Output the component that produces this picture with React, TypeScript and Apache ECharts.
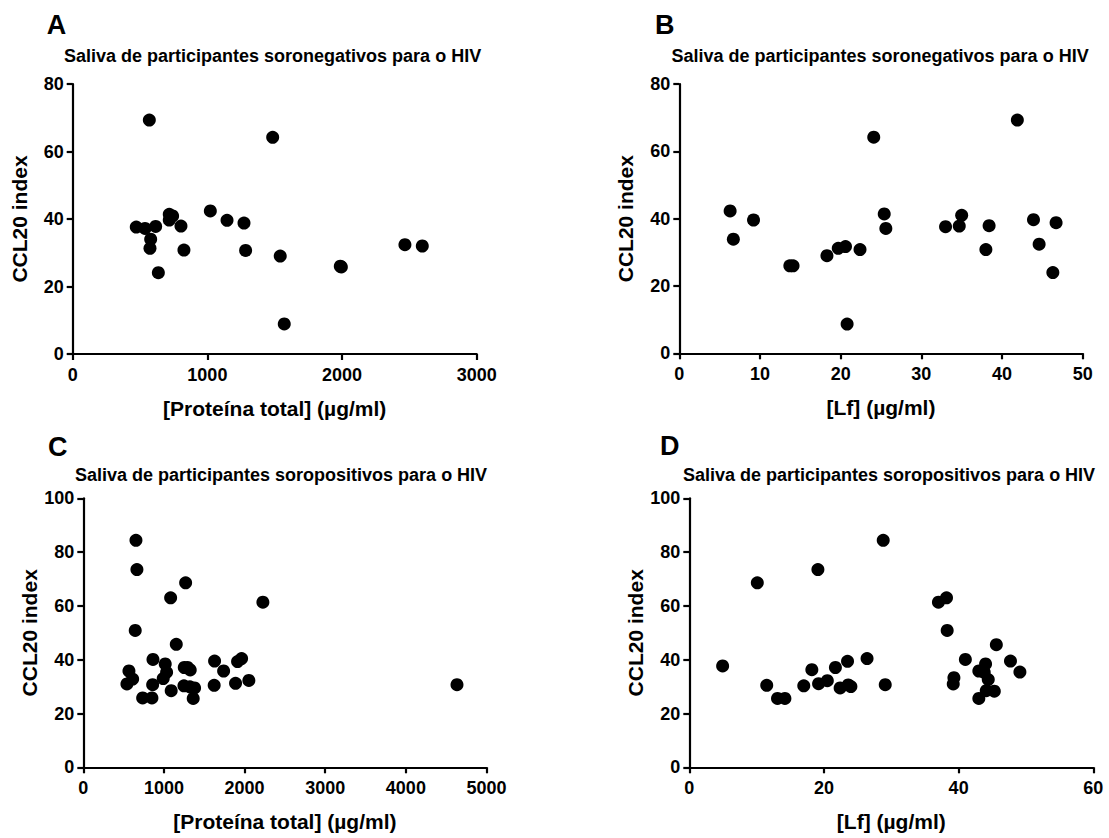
import React, { useEffect, useRef } from "react";
import * as echarts from "echarts";

// Panel A: total protein vs CCL20 index (HIV-seronegative)
const aProt = [569, 1485, 472, 537, 616, 579, 574, 636, 717, 742, 717, 804, 826, 1022, 1146, 1272, 1284, 1541, 1571, 1987, 1995, 2467, 2596];
const aCcl = [69.3, 64.2, 37.6, 37.2, 37.8, 34.0, 31.3, 24.1, 41.4, 40.9, 39.7, 37.9, 30.8, 42.4, 39.6, 38.8, 30.7, 29.0, 8.9, 26.0, 25.8, 32.4, 32.0];

// Panel B: Lf vs CCL20 index (HIV-seronegative)
const bLf = [6.3, 6.7, 9.2, 13.7, 14.1, 18.3, 19.7, 20.6, 20.8, 22.4, 24.1, 25.4, 25.6, 33.0, 34.7, 35.0, 38.0, 38.4, 41.9, 43.9, 44.6, 46.3, 46.7];
const bCcl = [42.3, 33.9, 39.6, 26.0, 26.0, 29.0, 31.2, 31.7, 8.7, 30.8, 64.2, 41.4, 37.1, 37.6, 37.8, 41.0, 30.8, 37.9, 69.3, 39.7, 32.4, 24.0, 38.8];

// Panel C: total protein vs CCL20 index (HIV-seropositive)
const cProt = [653, 665, 1269, 1083, 2227, 644, 1153, 566, 541, 612, 736, 851, 864, 860, 1016, 1033, 991, 1090, 1252, 1293, 1326, 1248, 1322, 1380, 1363, 1628, 1740, 1623, 1888, 1913, 1963, 2053, 4634];
const cCcl = [84.4, 73.5, 68.6, 63.0, 61.4, 50.9, 45.7, 35.8, 31.0, 32.8, 25.8, 25.8, 40.1, 30.7, 38.4, 35.3, 33.0, 28.5, 37.1, 37.1, 36.2, 30.3, 29.9, 29.5, 25.6, 39.5, 35.8, 30.5, 31.2, 39.3, 40.4, 32.3, 30.7];

// Panel D: Lf vs CCL20 index (HIV-seropositive)
const dLf = [4.95, 10.1, 11.5, 13.1, 14.2, 19.1, 18.2, 17.0, 19.2, 20.5, 21.7, 22.4, 23.5, 23.6, 24.0, 26.4, 28.8, 29.1, 37.0, 38.2, 38.3, 39.3, 39.2, 41.0, 43.0, 44.0, 43.8, 44.4, 43.0, 44.1, 45.3, 45.6, 47.7, 49.1];
const dCcl = [37.7, 68.6, 30.5, 25.6, 25.6, 73.5, 36.3, 30.3, 31.1, 32.2, 37.1, 29.5, 39.4, 30.6, 30.0, 40.4, 84.4, 30.7, 61.4, 63.0, 50.9, 33.3, 31.0, 40.1, 35.8, 38.4, 35.3, 32.6, 25.6, 28.5, 28.3, 45.6, 39.5, 35.4];

const panelLetters = ["A", "B", "C", "D"];
const subtitles = [
  "Saliva de participantes soronegativos para o HIV",
  "Saliva de participantes soronegativos para o HIV",
  "Saliva de participantes soropositivos para o HIV",
  "Saliva de participantes soropositivos para o HIV",
];
const xNames = ["[Proteína total] (µg/ml)", "[Lf] (µg/ml)", "[Proteína total] (µg/ml)", "[Lf] (µg/ml)"];
const yName = "CCL20 index";
const xMax = [3000, 50, 5000, 60];
const xStep = [1000, 10, 1000, 20];
const yMax = [80, 80, 100, 100];
const yStep = [20, 20, 20, 20];

const FONT = "Arial, 'Liberation Sans', Helvetica, sans-serif";

const zip = (xs: number[], ys: number[]) => xs.map((x, i) => [x, ys[i]]);

export default function App() {
  const ref = useRef<HTMLDivElement>(null);
  useEffect(() => {
    if (!ref.current) return;
    const chart = echarts.init(ref.current, undefined, { renderer: "svg" });

    const grids = [
      { left: 72.7, top: 84, width: 404, height: 270 },
      { left: 679.3, top: 84, width: 403.4, height: 269.3 },
      { left: 83.3, top: 498.3, width: 403.2, height: 269 },
      { left: 689.3, top: 498.3, width: 404, height: 269 },
    ];
    const letterPos = [
      [46.7, 24.5],
      [655, 25],
      [48, 447],
      [660, 446],
    ];
    const subPos = [
      [64, 55.5],
      [671.5, 55.5],
      [75, 475],
      [683, 475],
    ];

    const axisLine = { show: true, onZero: false, lineStyle: { color: "#000", width: 2.2, opacity: 1 } };
    const axisTick = { show: true, inside: false, length: 6, lineStyle: { color: "#000", width: 2.2 } };
    const labelStyle = {
      color: "#000",
      fontSize: 18,
      fontWeight: "bold",
      fontFamily: FONT,
      formatter: (v: number) => String(v),
    };
    const nameStyle = { color: "#000", fontSize: 21, fontWeight: "bold", fontFamily: FONT };

    const datasets = [zip(aProt, aCcl), zip(bLf, bCcl), zip(cProt, cCcl), zip(dLf, dCcl)];

    const graphic: any[] = [];
    for (let i = 0; i < 4; i++) {
      graphic.push({
        type: "text",
        x: letterPos[i][0],
        y: letterPos[i][1],
        style: {
          text: panelLetters[i],
          fill: "#000",
          fontSize: 27,
          fontWeight: "bold",
          fontFamily: FONT,
          verticalAlign: "middle",
          align: "left",
        },
      });
      graphic.push({
        type: "text",
        x: subPos[i][0],
        y: subPos[i][1],
        style: {
          text: subtitles[i],
          fill: "#000",
          fontSize: 18,
          fontWeight: "bold",
          fontFamily: FONT,
          verticalAlign: "middle",
          align: "left",
        },
      });
    }

    chart.setOption({
      animation: false,
      backgroundColor: "#fff",
      grid: grids.map((g) => ({ ...g, containLabel: false })),
      xAxis: grids.map((_, i) => ({
        type: "value",
        gridIndex: i,
        min: 0,
        max: xMax[i],
        interval: xStep[i],
        axisLine,
        axisTick,
        splitLine: { show: false },
        axisLabel: { ...labelStyle, margin: 12 },
        name: xNames[i],
        nameLocation: "middle",
        nameGap: 44,
        nameTextStyle: nameStyle,
      })),
      yAxis: grids.map((_, i) => ({
        type: "value",
        gridIndex: i,
        min: 0,
        max: yMax[i],
        interval: yStep[i],
        axisLine,
        axisTick,
        splitLine: { show: false },
        axisLabel: { ...labelStyle, margin: 9 },
        name: yName,
        nameLocation: "middle",
        nameGap: 43,
        nameTextStyle: nameStyle,
      })),
      series: datasets.map((d, i) => ({
        type: "scatter",
        xAxisIndex: i,
        yAxisIndex: i,
        data: d,
        symbol: "circle",
        symbolSize: 13,
        itemStyle: { color: "#000", opacity: 1 },
        emphasis: { disabled: true },
      })),
      graphic,
    });

    return () => chart.dispose();
  }, []);

  return (
    <div
      ref={ref}
      style={{ position: "absolute", left: 0, top: 0, width: 1109, height: 838, background: "#fff" }}
    />
  );
}
